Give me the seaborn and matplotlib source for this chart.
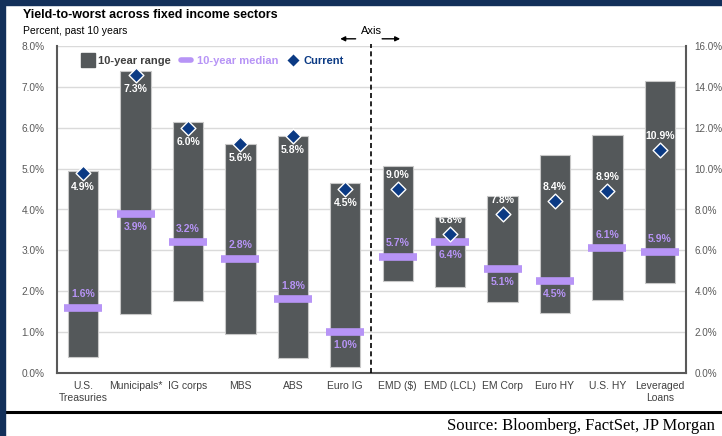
import numpy as np
import pandas as pd
import matplotlib.pyplot as plt
import seaborn as sns
from matplotlib.lines import Line2D
from matplotlib.patches import Rectangle

# left axis sectors (0-8%)
left_sectors = ['U.S.\nTreasuries', 'Municipals*', 'IG corps', 'MBS', 'ABS', 'Euro IG']
left_low = [0.40, 1.45, 1.75, 0.95, 0.37, 0.15]
left_high = [4.93, 7.40, 6.15, 5.60, 5.80, 4.66]
left_median = [1.6, 3.9, 3.2, 2.8, 1.8, 1.0]
left_current = [4.9, 7.3, 6.0, 5.6, 5.8, 4.5]

# right axis sectors (0-16%)
right_sectors = ['EMD ($)', 'EMD (LCL)', 'EM Corp', 'Euro HY', 'U.S. HY', 'Leveraged\nLoans']
right_low = [4.50, 4.20, 3.45, 2.95, 3.55, 4.40]
right_high = [10.15, 7.65, 8.65, 10.65, 11.65, 14.30]
right_median = [5.7, 6.4, 5.1, 4.5, 6.1, 5.9]
right_current = [9.0, 6.8, 7.8, 8.4, 8.9, 10.9]

# where the median labels sit relative to the median mark
median_label_side = ['above', 'below', 'above', 'above', 'above', 'below',
                     'above', 'below', 'below', 'below', 'above', 'above']

sectors = left_sectors + right_sectors

bar_color = '#54585a'
median_color = '#b794f6'
navy = '#0b3a84'
spine_color = '#595959'
text_color = '#404040'

sns.set_style('white')
plt.rcParams['font.family'] = ['Liberation Sans', 'DejaVu Sans']

df_left = pd.DataFrame({'sector': left_sectors, 'low': left_low, 'high': left_high,
                        'median': left_median, 'current': left_current})
df_right = pd.DataFrame({'sector': right_sectors, 'low': right_low, 'high': right_high,
                         'median': right_median, 'current': right_current})
for d in (df_left, df_right):
    d['span'] = d['high'] - d['low']

fig = plt.figure(figsize=(7.22, 4.36), dpi=100)
ax = fig.add_axes([57 / 722, 1 - 373 / 436, 629 / 722, 327 / 436])
ax2 = ax.twinx()

panels = [(ax, df_left, 'below'), (ax2, df_right, 'above')]
for a, d, cur_side in panels:
    sns.barplot(data=d, x='sector', y='span', order=sectors, bottom=d['low'].values,
                color=bar_color, saturation=1, width=0.58, edgecolor='#c8c8c8',
                linewidth=0.8, errorbar=None, ax=a)
    sns.stripplot(data=d, x='sector', y='median', order=sectors, jitter=False,
                  marker='_', size=28, linewidth=5.5, color=median_color,
                  edgecolor=median_color, ax=a, zorder=4)
    sns.stripplot(data=d, x='sector', y='current', order=sectors, jitter=False,
                  marker='D', size=7.5, linewidth=1, color=navy,
                  edgecolor='white', ax=a, zorder=5)
    offset = -10 if cur_side == 'below' else 10
    for i, row in d.iterrows():
        xpos = sectors.index(row['sector'])
        a.annotate(f"{row['current']:.1f}%", (xpos, row['current']),
                   xytext=(0, offset), textcoords='offset points', ha='center',
                   va='center', color='white', fontsize=7.5, fontweight='bold', zorder=6)
        side = median_label_side[xpos]
        a.annotate(f"{row['median']:.1f}%", (xpos, row['median']),
                   xytext=(0, 9.5 if side == 'above' else -9.5), textcoords='offset points',
                   ha='center', va='center', color=median_color, fontsize=7.5,
                   fontweight='bold', zorder=6)
    a.set_xlabel('')
    a.set_ylabel('')

ax.set_ylim(0, 8)
ax2.set_ylim(0, 16)
ax.set_yticks(np.arange(0, 8.01, 1))
ax2.set_yticks(np.arange(0, 16.01, 2))
ax.set_yticklabels([f'{v:.1f}%' for v in np.arange(0, 8.01, 1)])
ax2.set_yticklabels([f'{v:.1f}%' for v in np.arange(0, 16.01, 2)])
ax.set_xlim(-0.5, len(sectors) - 0.5)
ax.set_xticks(np.arange(len(sectors)))
ax.set_xticklabels(sectors)
ax.set_xticks(np.arange(-0.5, len(sectors), 1), minor=True)

ax.yaxis.grid(True, color='#dadada', linewidth=1)
ax.xaxis.grid(False)
ax2.grid(False)
ax.set_axisbelow(True)

ax.tick_params(axis='y', length=0, pad=9, labelsize=7.3, labelcolor=spine_color)
ax2.tick_params(axis='y', length=0, pad=6, labelsize=7.1, labelcolor=spine_color)
ax.tick_params(axis='x', which='major', length=0, pad=6, labelsize=7.5, labelcolor=text_color)
ax.tick_params(axis='x', which='minor', length=5, width=1.2, color=spine_color)

for s in ['top', 'right']:
    ax.spines[s].set_visible(False)
for s in ['top', 'left', 'bottom']:
    ax2.spines[s].set_visible(False)
ax.spines['left'].set_color(spine_color)
ax.spines['bottom'].set_color(spine_color)
ax2.spines['right'].set_color(spine_color)
for sp in (ax.spines['left'], ax.spines['bottom'], ax2.spines['right']):
    sp.set_linewidth(1.5)

# divider between the two y-axis groups
split = len(left_sectors) - 0.5
ax2.axvline(split, color='black', linestyle=(0, (3, 2)), linewidth=1.2, ymax=1.005,
            clip_on=False, zorder=2)
ax2.annotate('Axis', (split, 1.045), xycoords=('data', 'axes fraction'), ha='center',
             va='center', fontsize=8, color='black')
ax2.annotate('', xy=(split - 0.65, 1.022), xytext=(split - 0.25, 1.022),
             xycoords=('data', 'axes fraction'), textcoords=('data', 'axes fraction'),
             arrowprops=dict(arrowstyle='-|>', color='black', lw=1, mutation_scale=7))
ax2.annotate('', xy=(split + 0.6, 1.022), xytext=(split + 0.15, 1.022),
             xycoords=('data', 'axes fraction'), textcoords=('data', 'axes fraction'),
             arrowprops=dict(arrowstyle='-|>', color='black', lw=1, mutation_scale=7))

# legend
handles = [Line2D([], [], marker='s', color=bar_color, linestyle='none', markersize=10),
           Line2D([], [], color=median_color, linewidth=4),
           Line2D([], [], marker='D', color=navy, markeredgecolor='white', linestyle='none',
                  markersize=7)]
leg = ax2.legend(handles, ['10-year range', '10-year median', 'Current'], loc='center left',
                 bbox_to_anchor=(0.025, 0.955), ncol=3, frameon=False,
                 prop={'size': 8, 'weight': 'bold'}, handlelength=0.9,
                 handletextpad=0.5, columnspacing=0.9)
for txt, c in zip(leg.get_texts(), [text_color, median_color, navy]):
    txt.set_color(c)

# frame decorations
fig.add_artist(Rectangle((0, 1 - 5 / 436), 1, 5 / 436, transform=fig.transFigure,
                         color='#13305a', zorder=10))
fig.add_artist(Rectangle((0, 0), 5 / 722, 1, transform=fig.transFigure,
                         color='#13305a', zorder=10))
fig.add_artist(Line2D([5 / 722, 1], [1 - 412 / 436] * 2, transform=fig.transFigure,
                      color='black', linewidth=2.2))

fig.text(23 / 722, 1 - 15 / 436, 'Yield-to-worst across fixed income sectors',
         fontsize=9, fontweight='bold', va='center', ha='left', color='black')
fig.text(23 / 722, 1 - 31 / 436, 'Percent, past 10 years', fontsize=7.5, va='center',
         ha='left', color='black')
fig.text(715 / 722, 1 - 426 / 436, 'Source: Bloomberg, FactSet, JP Morgan',
         family=['Liberation Serif', 'DejaVu Serif'], fontsize=12, ha='right', va='center',
         color='black')

fig.savefig('out.png', dpi=100)
